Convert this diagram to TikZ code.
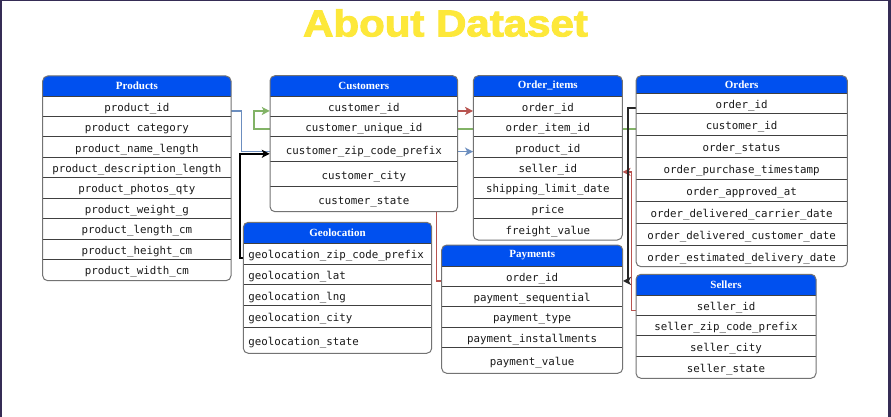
\documentclass[tikz,border=0pt]{standalone}
\usepackage{graphicx}
\usepackage{fontspec}
\setmainfont{Liberation Serif}
\newfontfamily\monof{DejaVu Sans Mono}
\newfontfamily\titlef{Liberation Sans Bold}[FakeBold=2.5]
\usetikzlibrary{arrows.meta}
\definecolor{hdrblue}{HTML}{0050EF}
\definecolor{titleyellow}{HTML}{FDE83A}
\definecolor{framecol}{HTML}{352C55}
\definecolor{cblue}{HTML}{6C8EBF}
\definecolor{cgreen}{HTML}{82B366}
\definecolor{cred}{HTML}{B85450}
\pgfdeclarelayer{back}
\pgfdeclarelayer{conn}
\pgfsetlayers{back,conn,main}
\tikzset{
  hdrtext/.style={text=white,font=\fontsize{11}{12}\selectfont\bfseries,inner sep=0pt},
  cell/.style={font=\monof\fontsize{10.8}{12}\selectfont,text=black!90,inner xsep=0pt,inner ysep=1pt},
  sep/.style={draw=black!75,line width=0.9pt},
  tframe/.style={draw=black!55,line width=1pt},
  conline/.style={line width=1.4pt},
  tip/.style={-{Stealth[length=8pt,width=8pt,inset=2pt]}},
}
\newcommand\ertable[9]{%
  \path[fill=white,rounded corners=5pt] (#2,#4) rectangle (#3,#6);
  \path[fill=hdrblue] (#2,#5) [rounded corners=5pt]-- (#2,#4) -- (#3,#4) [sharp corners]-- (#3,#5) -- cycle;
  \node[hdrtext] (#1h) at ({(#2+#3)/2},{(#4+#5)/2}) {#7};
  \foreach \ya/\yb/\t [count=\i] in {#8} {
    \draw[sep] (#2,\ya) -- (#3,\ya);
    \node[#9, minimum width={#3-#2}] (#1\i) at ({(#2+#3)/2},{(\ya+\yb)/2+2.3}) {\t};
  }
  \draw[tframe,rounded corners=5pt] (#2,#4) rectangle (#3,#6);
}
\begin{document}
\begin{tikzpicture}[x=1pt,y=-1pt]
\useasboundingbox (0,0) rectangle (891,417);
\begin{pgfonlayer}{back}
  \fill[white] (0,0) rectangle (891,417);
  \fill[framecol] (0,0) rectangle (2,417);
  \fill[framecol] (0,0) rectangle (891,1.5);
  \fill[framecol] (888,0) rectangle (891,417);
\end{pgfonlayer}

\node[text=titleyellow,inner sep=0pt] (title) at (445.5,23)
  {\scalebox{1.12}[1]{\titlef\fontsize{37.5}{40}\selectfont About Dataset}};

% Products
\ertable{p}{42.7}{231}{76}{96}{280.7}{Products}{%
  96/116.7/product\_id,
  116.7/136.7/product category,
  136.7/157.3/product\_name\_length,
  157.3/177.3/product\_description\_length,
  177.3/198/product\_photos\_qty,
  198/218.3/product\_weight\_g,
  218.3/239/product\_length\_cm,
  239/259/product\_height\_cm,
  259/280.7/product\_width\_cm}{cell}

% Customers
\ertable{c}{270}{457.7}{75.7}{96}{211.7}{Customers}{%
  96/116.7/customer\_id,
  116.7/136.7/customer\_unique\_id,
  136.7/161.7/customer\_zip\_code\_prefix,
  161.7/186.7/customer\_city,
  186.7/211.7/customer\_state}{cell}

% Order_items
\ertable{oi}{473.3}{622.3}{75.7}{96}{240}{Order\_items}{%
  96/116.7/order\_id,
  116.7/136.7/order\_item\_id,
  136.7/157.3/product\_id,
  157.3/177.3/seller\_id,
  177.3/198/shipping\_limit\_date,
  198/218.3/price,
  218.3/240/freight\_value}{cell}

% Orders
\ertable{o}{636}{847.3}{75.7}{93.3}{266.7}{Orders}{%
  93.3/113.3/order\_id,
  113.3/135.7/customer\_id,
  135.7/157.7/order\_status,
  157.7/179.3/order\_purchase\_timestamp,
  179.3/201/order\_approved\_at,
  201/223.3/order\_delivered\_carrier\_date,
  223.3/245/order\_delivered\_customer\_date,
  245/266.7/order\_estimated\_delivery\_date}{cell}

% Geolocation
\ertable{g}{243.3}{431.7}{222.3}{243.3}{353.3}{Geolocation}{%
  243.3/264/geolocation\_zip\_code\_prefix,
  264/284.3/geolocation\_lat,
  284.3/305.7/geolocation\_lng,
  305.7/327.7/geolocation\_city,
  327.7/353.3/geolocation\_state}{cell,text width=178.4pt,align=left,inner xsep=5pt}

% Payments
\ertable{pay}{441.7}{622.7}{245}{266}{373.3}{Payments}{%
  266/286.7/order\_id,
  286.7/306.7/payment\_sequential,
  306.7/327.3/payment\_type,
  327.3/347.3/payment\_installments,
  347.3/373.3/payment\_value}{cell}

% Sellers
\ertable{s}{636}{816}{274.3}{295.7}{378.3}{Sellers}{%
  295.7/315.7/seller\_id,
  315.7/335.7/seller\_zip\_code\_prefix,
  335.7/356/seller\_city,
  356/378.3/seller\_state}{cell}

\begin{pgfonlayer}{conn}
  % Products.product_id -> Order_items.product_id
  \draw[conline,cblue,tip] ([yshift=-2.3pt]p1.east) -- ++(10,0) |- ([yshift=-2.3pt]oi3.west);
  % Geolocation.zip -> Customers.zip
  \draw[line width=1.8pt,black,tip] ([yshift=-2.3pt]g1.west) -- ++(-3,0) |- ([yshift=-2.3pt]c3.west);
  % Orders.customer_id -> Customers.customer_id
  \draw[conline,cgreen,tip] ([yshift=-2.3pt]o2.west) -| ([xshift=-16pt,yshift=-2.3pt]c1.west) -- ([yshift=-2.3pt]c1.west);
  % Payments.order_id -> Order_items.order_id
  \draw[conline,cred,tip] ([yshift=-2.3pt]pay1.west) -- ++(-5,0) |- ([yshift=-2.3pt]oi1.west);
  % Sellers.seller_id -> Order_items.seller_id
  \draw[conline,cred,tip] ([yshift=-2.3pt]s1.west) -- ++(-4.3,0) |- ([yshift=-2.3pt]oi4.east);
  % Orders.order_id -> Payments.order_id
  \draw[line width=1.6pt,black!85,tip] ([yshift=-2.3pt]o1.west) -- ++(-7.7,0) |- ([yshift=-2.3pt]pay1.east);
\end{pgfonlayer}
\end{tikzpicture}
\end{document}
